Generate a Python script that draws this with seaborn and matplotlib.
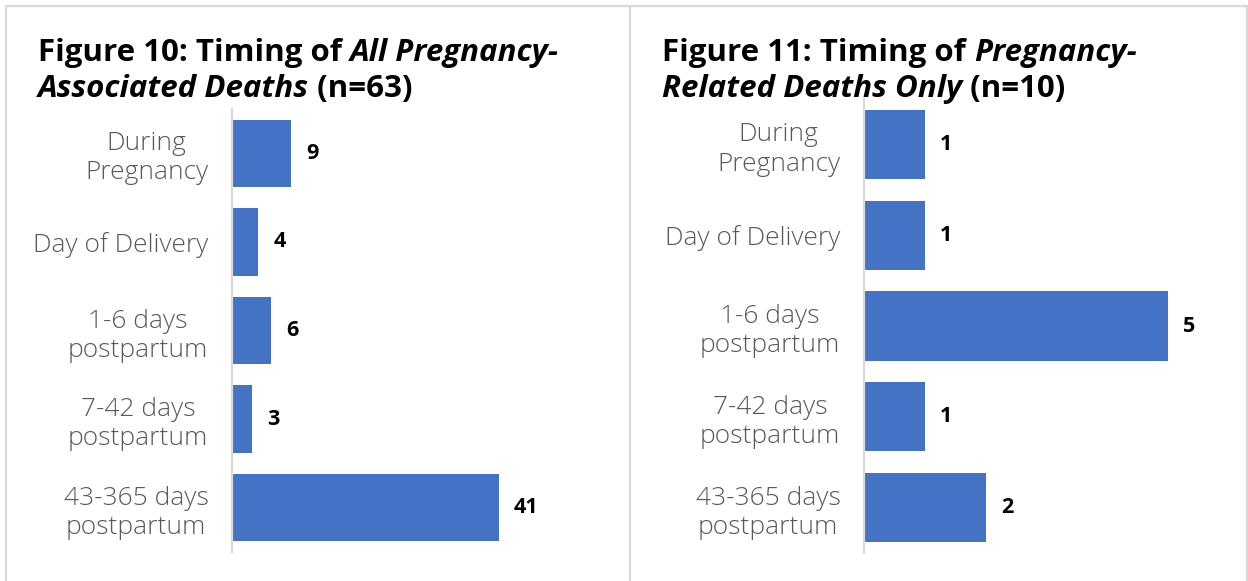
import matplotlib
matplotlib.use("Agg")
import matplotlib.pyplot as plt
import seaborn as sns
from matplotlib.lines import Line2D
from matplotlib.transforms import offset_copy

# Dados
categorias = ["During\nPregnancy", "Day of Delivery", "1-6 days\npostpartum",
              "7-42 days\npostpartum", "43-365 days\npostpartum"]
obitos_associados = [9, 4, 6, 3, 41]
obitos_relacionados = [1, 1, 5, 1, 2]

titulo_esq = [[("Figure 10: Timing of ", "normal"), ("All Pregnancy-", "italic")],
              [("Associated Deaths", "italic"), (" (n=63)", "normal")]]
titulo_dir = [[("Figure 11: Timing of ", "normal"), ("Pregnancy-", "italic")],
              [("Related Deaths Only", "italic"), (" (n=10)", "normal")]]

AZUL = "#4472C4"
CINZA_TXT = "#595959"
CINZA_LINHA = "#D9D9D9"

sns.set_style("white")
plt.rcParams["font.family"] = ["Open Sans", "DejaVu Sans"]

W, H = 1248, 581
fig = plt.figure(figsize=(W / 100, H / 100), dpi=100)


def desenhar_barras(ax, valores, xmax):
    sns.barplot(x=valores, y=categorias, color=AZUL, width=0.76,
                saturation=1, edgecolor="none", ax=ax)
    ax.set_xlim(0, xmax)
    ax.set_ylim(4.5, -0.5)
    sns.despine(ax=ax, top=True, right=True, bottom=True)
    ax.spines["left"].set_color(CINZA_LINHA)
    ax.spines["left"].set_linewidth(1.6)
    ax.set_xticks([])
    ax.set_xlabel("")
    ax.set_ylabel("")
    ax.tick_params(axis="y", length=0, pad=17, labelsize=19, labelcolor=CINZA_TXT)
    for lbl in ax.get_yticklabels():
        lbl.set_multialignment("center")
        lbl.set_fontweight("light")
        lbl.set_linespacing(1.22)
    ax.bar_label(ax.containers[0], padding=11, fontsize=15.5,
                 fontweight="bold", color="black")


def escrever_titulo(linhas, x0, ys):
    fig.canvas.draw()
    renderer = fig.canvas.get_renderer()
    for linha, y in zip(linhas, ys):
        trans = fig.transFigure
        for texto, estilo in linha:
            t = fig.text(x0, y, texto, transform=trans, fontsize=22.5,
                         fontweight="bold", style=estilo, color="black",
                         va="baseline", ha="left")
            t.draw(renderer)
            ext = t.get_window_extent(renderer)
            trans = offset_copy(t.get_transform(), fig=fig, x=ext.width, units="dots")


# Painel esquerdo
ax1 = fig.add_axes([232 / W, 1 - 552 / H, (600 - 232) / W, 443 / H])
desenhar_barras(ax1, obitos_associados, (600 - 232) / 6.5)

# Painel direito
ax2 = fig.add_axes([864 / W, 1 - 553 / H, (1230 - 864) / W, 454 / H])
desenhar_barras(ax2, obitos_relacionados, (1230 - 864) / 60.8)

# Titulos
escrever_titulo(titulo_esq, 38 / W, [1 - 61 / H, 1 - 97 / H])
escrever_titulo(titulo_dir, 662 / W, [1 - 61 / H, 1 - 97 / H])

# Moldura dos paineis
for xs, ys in [([6 / W, 1247 / W], [1 - 6 / H, 1 - 6 / H]),
               ([6 / W, 6 / W], [1 - 6 / H, 0]),
               ([630 / W, 630 / W], [1 - 6 / H, 0]),
               ([1247 / W, 1247 / W], [1 - 6 / H, 0])]:
    fig.add_artist(Line2D(xs, ys, transform=fig.transFigure,
                          color=CINZA_LINHA, linewidth=1.6))

fig.savefig("out.png", dpi=100)
